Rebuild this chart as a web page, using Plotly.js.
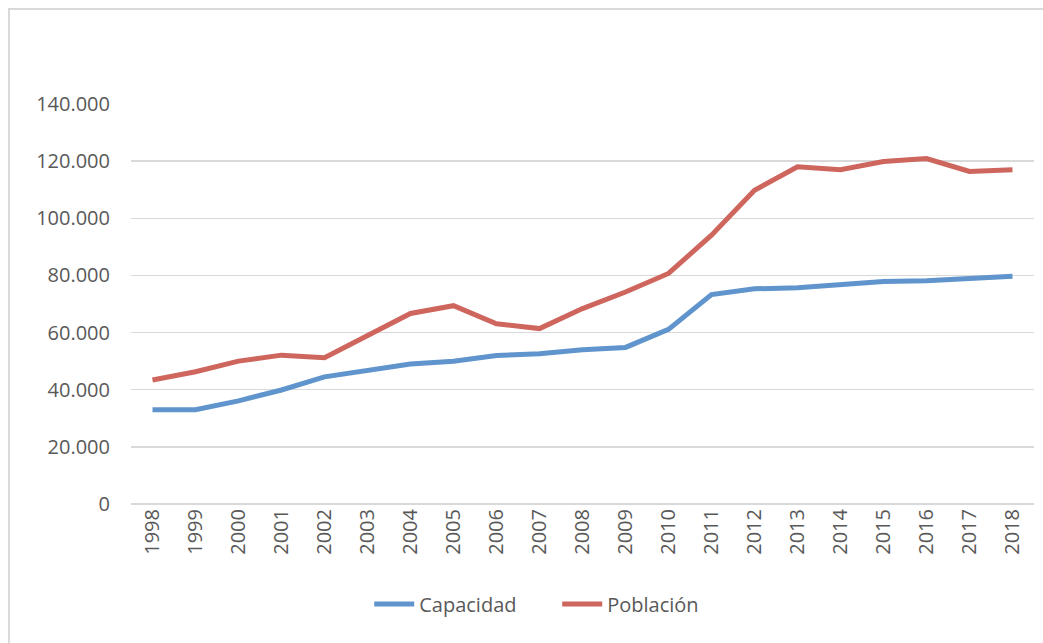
<!DOCTYPE html>
<html>
<head>
<meta charset="utf-8">
<script src="https://cdn.plot.ly/plotly-3.0.1.min.js"></script>
<style>
  html, body { margin: 0; padding: 0; background: #ffffff; }
  #frame { position: absolute; left: 8px; top: 8px; width: 1100px; height: 700px;
           border-left: 2px solid #d9d9d9; border-top: 2px solid #d9d9d9; box-sizing: border-box; }
  #chart { position: absolute; left: 0; top: 0; width: 1043px; height: 643px; }
</style>
</head>
<body>
<div id="frame"></div>
<div id="chart"></div>
<script>
const years = ["1998","1999","2000","2001","2002","2003","2004","2005","2006","2007",
               "2008","2009","2010","2011","2012","2013","2014","2015","2016","2017","2018"];
const capacidad = [33000, 33000, 36100, 39900, 44500, 46900, 49000, 50000, 52000, 52600,
                   54000, 54800, 61100, 73300, 75300, 75700, 76800, 77900, 78100, 78700, 79700];
const poblacion = [43400, 46300, 50000, 52100, 51200, 59100, 66700, 69400, 63100, 61400,
                   68400, 74200, 80700, 94100, 109800, 118000, 117000, 119900, 120900, 116400, 117000];
const seriesNames = ["Capacidad", "Población"];
const yTicks = [0, 20000, 40000, 60000, 80000, 100000, 120000, 140000];

const fontFam = '"Open Sans", "Liberation Sans", sans-serif';
const traces = [
  { x: years, y: capacidad, name: seriesNames[0], type: 'scatter', mode: 'lines',
    line: { color: '#6094cc', width: 5 } },
  { x: years, y: poblacion, name: seriesNames[1], type: 'scatter', mode: 'lines',
    line: { color: '#ce665e', width: 5 } }
];
const layout = {
  width: 1043, height: 643,
  margin: { l: 131, r: 9, t: 104, b: 139 },
  paper_bgcolor: 'rgba(0,0,0,0)', plot_bgcolor: 'rgba(0,0,0,0)',
  separators: ',.',
  showlegend: true,
  legend: { orientation: 'h', x: 0.472, xanchor: 'center', y: -0.25, yanchor: 'middle',
            font: { family: fontFam, size: 20, color: '#595959' }, itemwidth: 40,
            entrywidth: 133 },
  xaxis: { type: 'category', range: [-0.5, 20.5], tickangle: -90, showgrid: false,
           showline: false, zeroline: false, ticks: '',
           tickfont: { family: fontFam, size: 20, color: '#595959' } },
  yaxis: { range: [0, 140000], tickvals: yTicks, tickformat: ',d', showgrid: true,
           gridcolor: '#d9d9d9', gridwidth: 1.5, zeroline: true, zerolinecolor: '#d9d9d9',
           zerolinewidth: 1.5, showline: false, ticks: '', ticklabelstandoff: 20,
           tickfont: { family: fontFam, size: 20, color: '#595959' } }
};
Plotly.newPlot('chart', traces, layout, { staticPlot: true, displayModeBar: false });
</script>
</body>
</html>
